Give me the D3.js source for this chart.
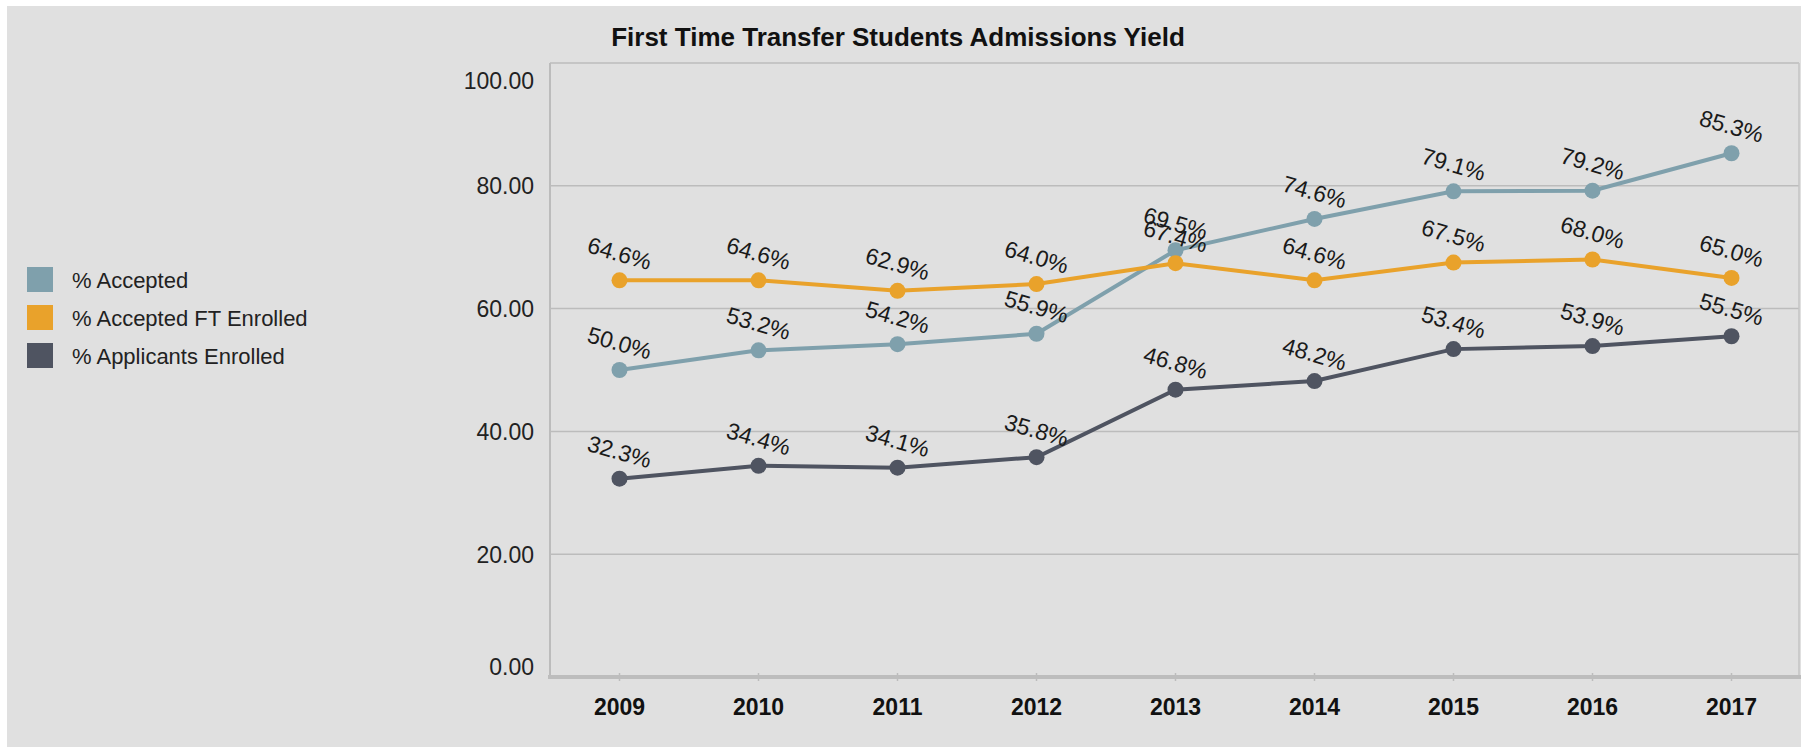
<!DOCTYPE html>
<html>
<head>
<meta charset="utf-8">
<script src="https://cdn.jsdelivr.net/npm/d3@7"></script>
<style>
  body { margin: 0; background: #fff; }
  svg { display: block; font-family: "Liberation Sans", Arial, sans-serif; }
</style>
</head>
<body>
<svg id="chart"></svg>
<script>
var years = ["2009", "2010", "2011", "2012", "2013", "2014", "2015", "2016", "2017"];
var accepted = [50.0, 53.2, 54.2, 55.9, 69.5, 74.6, 79.1, 79.2, 85.3];
var acceptedEnrolled = [64.6, 64.6, 62.9, 64.0, 67.4, 64.6, 67.5, 68.0, 65.0];
var applicantsEnrolled = [32.3, 34.4, 34.1, 35.8, 46.8, 48.2, 53.4, 53.9, 55.5];
var seriesNames = ["% Accepted", "% Accepted FT Enrolled", "% Applicants Enrolled"];
var seriesColors = ["#7fa0ac", "#e9a22b", "#4f5461"];
var yTicks = [0, 20, 40, 60, 80, 100];

var W = 1801, H = 747;
var plot = { left: 550, right: 1799, top: 63, bottom: 677 };

var svg = d3.select("#chart").attr("width", W).attr("height", H);

svg.append("rect")
    .attr("x", 7).attr("y", 6)
    .attr("width", W - 7).attr("height", H - 6)
    .attr("fill", "#e0e0e0");

var x = d3.scaleBand()
    .domain(years)
    .range([plot.left, plot.left + 139 * years.length]);
var y = d3.scaleLinear()
    .domain([0, 100])
    .range([plot.bottom, plot.top]);
var cx = function(d) { return x(d) + x.bandwidth() / 2; };

// title
svg.append("text")
    .attr("x", 898).attr("y", 46)
    .attr("text-anchor", "middle")
    .attr("font-size", 26).attr("font-weight", "bold")
    .attr("fill", "#111")
    .text("First Time Transfer Students Admissions Yield");

// gridlines
svg.append("g")
    .selectAll("line")
    .data(yTicks.filter(function(t) { return t > 0; }))
    .enter().append("line")
    .attr("x1", plot.left).attr("x2", plot.right)
    .attr("y1", function(d) { return y(d); })
    .attr("y2", function(d) { return y(d); })
    .attr("stroke", "#bcbcbc").attr("stroke-width", 1.5);

svg.append("line")
    .attr("x1", plot.left).attr("x2", plot.left)
    .attr("y1", plot.top).attr("y2", plot.bottom)
    .attr("stroke", "#bcbcbc").attr("stroke-width", 2);
svg.append("line")
    .attr("x1", plot.right).attr("x2", plot.right)
    .attr("y1", plot.top).attr("y2", plot.bottom)
    .attr("stroke", "#c4c4c4").attr("stroke-width", 1.5);

// y axis labels
var ejeY = d3.axisLeft(y).tickValues(yTicks).tickFormat(d3.format(".2f")).tickSize(0).tickPadding(16);
var gy = svg.append("g")
    .attr("transform", "translate(" + plot.left + ",0)")
    .call(ejeY);
gy.select(".domain").remove();
gy.selectAll("text")
    .attr("font-size", 23)
    .attr("font-family", "Liberation Sans, Arial, sans-serif")
    .attr("fill", "#222")
    .attr("dy", function(d) { return d === 100 ? "1.1em" : (d === 0 ? "-0.1em" : "0.35em"); });

// x axis
var ejeX = d3.axisBottom(x).tickSize(8).tickPadding(10);
var gx = svg.append("g")
    .attr("transform", "translate(0," + (plot.bottom - 4) + ")")
    .call(ejeX);
gx.select(".domain").remove();
gx.selectAll(".tick line").attr("stroke", "#bcbcbc").attr("stroke-width", 1.5);
gx.selectAll("text")
    .attr("font-size", 23).attr("font-weight", "bold")
    .attr("font-family", "Liberation Sans, Arial, sans-serif")
    .attr("fill", "#111")
    .attr("y", 26);
svg.append("line")
    .attr("x1", plot.left - 2).attr("x2", W)
    .attr("y1", plot.bottom).attr("y2", plot.bottom)
    .attr("stroke", "#bdbdbd").attr("stroke-width", 4);

// series
var allSeries = [accepted, acceptedEnrolled, applicantsEnrolled];
var line = d3.line()
    .x(function(d, i) { return cx(years[i]); })
    .y(function(d) { return y(d); });

allSeries.forEach(function(vals, s) {
    var g = svg.append("g");
    g.append("path")
        .datum(vals)
        .attr("d", line)
        .attr("fill", "none")
        .attr("stroke", seriesColors[s])
        .attr("stroke-width", 4);
    g.selectAll("circle")
        .data(vals)
        .enter().append("circle")
        .attr("cx", function(d, i) { return cx(years[i]); })
        .attr("cy", function(d) { return y(d); })
        .attr("r", 8)
        .attr("fill", seriesColors[s]);
});

allSeries.forEach(function(vals, s) {
    svg.append("g").selectAll("text")
        .data(vals)
        .enter().append("text")
        .attr("transform", function(d, i) {
            return "translate(" + cx(years[i]) + "," + (y(d) - 27) + ") rotate(16)";
        })
        .attr("text-anchor", "middle")
        .attr("dy", "0.35em")
        .attr("font-size", 23)
        .attr("fill", "#1a1a1a")
        .text(function(d) { return d.toFixed(1) + "%"; });
});

// legend
var leg = svg.append("g").selectAll("g")
    .data(seriesNames)
    .enter().append("g")
    .attr("transform", function(d, i) { return "translate(27," + (267 + i * 38) + ")"; });
leg.append("rect")
    .attr("width", 26).attr("height", 25)
    .attr("fill", function(d, i) { return seriesColors[i]; });
leg.append("text")
    .attr("x", 45).attr("y", 13)
    .attr("dy", "0.35em")
    .attr("font-size", 22)
    .attr("fill", "#222")
    .text(function(d) { return d; });
</script>
</body>
</html>
